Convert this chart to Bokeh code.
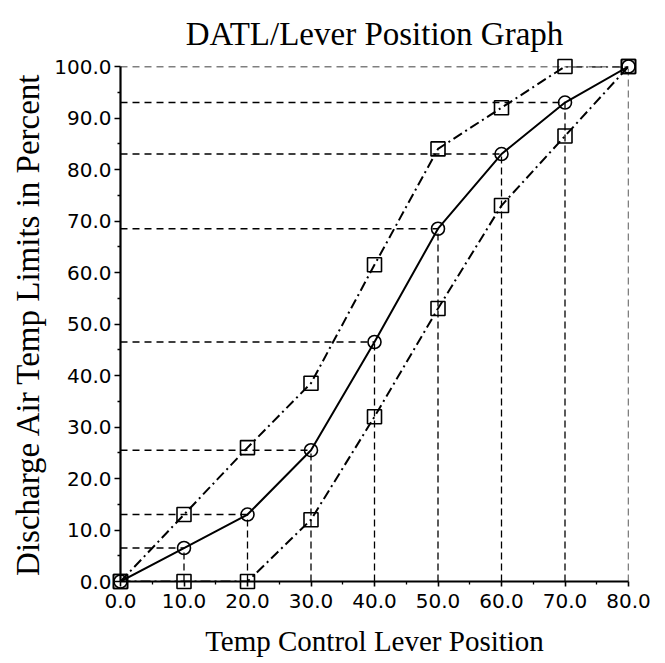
from bokeh.plotting import figure
from bokeh.models import Range1d, FixedTicker
from bokeh.core.properties import value
from bokeh.embed import file_html
from bokeh.resources import INLINE

# ---- data ----
lever = [0, 10, 20, 30, 40, 50, 60, 70, 80]
upper_limit = [0, 13, 26, 38.5, 61.5, 84, 92, 100, 100]
nominal = [0, 6.5, 13, 25.5, 46.5, 68.5, 83, 93, 100]
lower_limit = [0, 0, 0, 12, 32, 53, 73, 86.5, 100]

x_ticks = [0, 10, 20, 30, 40, 50, 60, 70, 80]
x_tick_labels = ["0.0", "10.0", "20.0", "30.0", "40.0", "50.0", "60.0", "70.0", "80.0"]
x_minor = [5, 15, 25, 35, 45, 55, 65, 75]
y_ticks = [0, 10, 20, 30, 40, 50, 60, 70, 80, 90, 100]
y_tick_labels = ["0.0", "10.0", "20.0", "30.0", "40.0", "50.0", "60.0", "70.0", "80.0", "90.0", "100.0"]
y_minor = [5, 15, 25, 35, 45, 55, 65, 75, 85, 95]

title_text = "DATL/Lever Position Graph"
x_label = "Temp Control Lever Position"
y_label = "Discharge Air Temp Limits in Percent"

p = figure(width=665, height=663, output_backend="svg", toolbar_location=None,
           x_range=Range1d(0, 80), y_range=Range1d(0, 100),
           min_border_left=120, min_border_right=37, min_border_top=66, min_border_bottom=82)
p.outline_line_color = None
p.xgrid.grid_line_color = None
p.ygrid.grid_line_color = None
p.background_fill_color = "white"
p.border_fill_color = "white"

# title drawn as unclipped text centred over the plot area
p.text(x=[(x_ticks[0] + x_ticks[-1]) / 2], y=[y_ticks[-1]], text=[title_text],
       y_offset=-33, text_align="center", text_baseline="alphabetic",
       text_font=value("Liberation Serif"), text_font_size="33px",
       text_color="black", level="overlay")

for ax in (p.xaxis[0], p.yaxis[0]):
    ax.axis_line_width = 2.2
    ax.axis_line_color = "black"
    ax.major_tick_line_color = "black"
    ax.minor_tick_line_color = "black"
    ax.major_tick_line_width = 1.6
    ax.minor_tick_line_width = 1.3
    ax.major_tick_in = 0
    ax.minor_tick_in = 0
    ax.major_label_text_font = "DejaVu Sans"
    ax.major_label_text_font_size = "20px"
    ax.major_label_text_color = "black"
    ax.axis_label_text_font = "Liberation Serif"
    ax.axis_label_text_font_style = "normal"
    ax.axis_label_text_color = "black"

p.xaxis.ticker = FixedTicker(ticks=x_ticks, minor_ticks=x_minor)
p.xaxis.major_label_overrides = dict(zip(x_ticks, x_tick_labels))
p.xaxis.major_tick_out = 5
p.xaxis.minor_tick_out = 3
p.xaxis.major_label_standoff = 7
p.xaxis.axis_label = x_label
p.xaxis.axis_label_text_font_size = "29px"
p.xaxis.axis_label_standoff = 14

p.yaxis.ticker = FixedTicker(ticks=y_ticks, minor_ticks=y_minor)
p.yaxis.major_label_overrides = dict(zip(y_ticks, y_tick_labels))
p.yaxis.major_tick_out = 6
p.yaxis.minor_tick_out = 3
p.yaxis.major_label_standoff = 3
p.yaxis.axis_label = y_label
p.yaxis.axis_label_text_font_size = "33px"
p.yaxis.axis_label_standoff = 5

# reference dashed lines from the nominal curve to the axes
pts_x = lever[1:]
pts_y = nominal[1:]
p.segment(x0=[0] * len(pts_x), y0=pts_y, x1=pts_x, y1=pts_y,
          line_color="black", line_width=1.6, line_dash="7 5")
p.segment(x0=pts_x, y0=[0] * len(pts_x), x1=pts_x, y1=pts_y,
          line_color="black", line_width=1.3, line_dash="7 4")

# curves
p.line(lever, upper_limit, line_color="black", line_width=2, line_dash="10 4 2 4")
p.line(lever, lower_limit, line_color="black", line_width=2, line_dash="10 4 2 4")
p.line(lever, nominal, line_color="black", line_width=2)

p.scatter(lever, upper_limit, marker="square", size=14, fill_alpha=0,
          line_color="black", line_width=1.6, level="overlay")
p.scatter(lever, lower_limit, marker="square", size=14, fill_alpha=0,
          line_color="black", line_width=1.6, level="overlay")
p.scatter(lever, nominal, marker="circle", size=13, fill_alpha=0,
          line_color="black", line_width=1.6, level="overlay")

open("out.html", "w").write(file_html(p, INLINE))
